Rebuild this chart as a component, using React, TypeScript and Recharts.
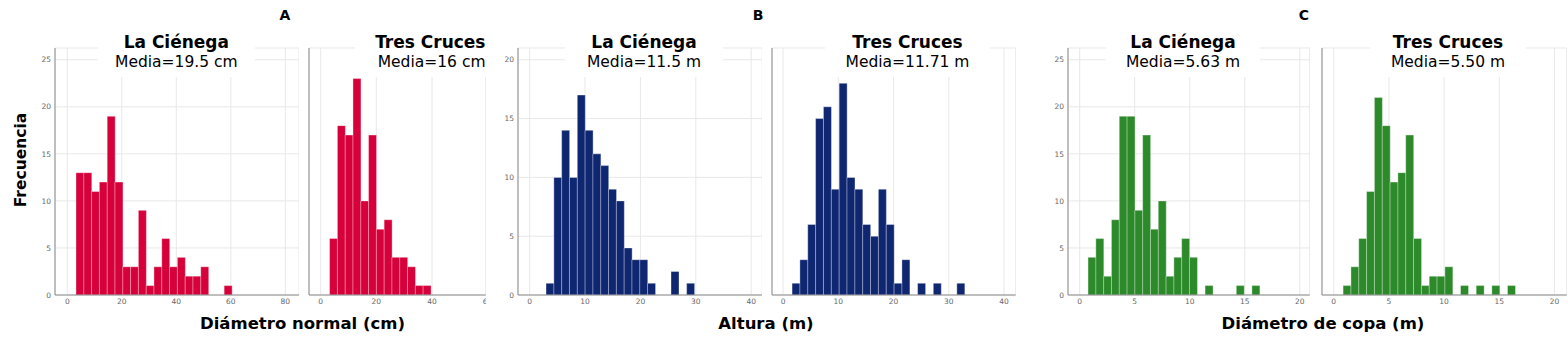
import React from 'react';
import { BarChart, Bar, XAxis, YAxis, CartesianGrid } from 'recharts';

const FONT = '"DejaVu Sans", Verdana, sans-serif';

const groupLabels = ['A', 'B', 'C'];
const axisTitles = ['Diámetro normal (cm)', 'Altura (m)', 'Diámetro de copa (m)'];
const siteNames = ['La Ciénega', 'Tres Cruces', 'La Ciénega', 'Tres Cruces', 'La Ciénega', 'Tres Cruces'];
const meanLabels = ['Media=19.5 cm', 'Media=16 cm', 'Media=11.5 m', 'Media=11.71 m', 'Media=5.63 m', 'Media=5.50 m'];

// frequencies per bin (left to right)
const dnCienega = [13, 13, 11, 12, 19, 12, 3, 3, 9, 1, 3, 6, 3, 4, 2, 2, 3, 0, 0, 1];
const dnCruces = [6, 18, 17, 23, 10, 17, 7, 8, 4, 4, 3, 1, 1];
const altCienega = [1, 10, 14, 10, 17, 14, 12, 11, 9, 8, 4, 3, 3, 1, 0, 0, 2, 0, 1];
const altCruces = [1, 3, 6, 15, 16, 9, 18, 10, 9, 6, 5, 9, 6, 1, 3, 0, 1, 0, 1, 0, 0, 1];
const copaCienega = [4, 6, 2, 8, 19, 19, 9, 17, 7, 10, 2, 4, 6, 4, 0, 1, 0, 0, 0, 1, 0, 1];
const copaCruces = [1, 3, 6, 11, 21, 18, 12, 13, 17, 6, 1, 2, 2, 3, 0, 1, 0, 1, 0, 1, 0, 1];

// first bin edge and bin width of each histogram
const binStarts = [3.2, 3.2, 2.96, 1.63, 0.76, 0.85];
const binWidths = [2.86, 2.8, 1.41, 1.42, 0.709, 0.709];

const xTicksDn = [0, 20, 40, 60, 80];
const xTicksDnRight = [0, 20, 40, 60];
const xTicksAlt = [0, 10, 20, 30, 40];
const xTicksCopa = [0, 5, 10, 15, 20];
const yTicks25 = [0, 5, 10, 15, 20, 25];
const yTicks20 = [0, 5, 10, 15, 20];

const RED = '#d6003a';
const NAVY = '#0f2671';
const GREEN = '#2d8a2a';

const toRows = (counts: number[], start: number, width: number) =>
  counts.map((n, i) => ({ x: start + width * (i + 0.5), n }));

const panels = [
  { counts: dnCienega, left: 55, right: 299, xDomain: [-4.5, 85], xTicks: xTicksDn, yMax: 26.25, yTicks: yTicks25, color: RED, showY: true, boxL: 97.7, boxR: 255, align: 'center' },
  { counts: dnCruces, left: 309.3, right: 486, xDomain: [-4.2, 59.3], xTicks: xTicksDnRight, yMax: 26.25, yTicks: yTicks25, color: RED, showY: false, boxL: 355, boxR: 485.5, align: 'right' },
  { counts: altCienega, left: 517.7, right: 762, xDomain: [-2.1, 42], xTicks: xTicksAlt, yMax: 21, yTicks: yTicks20, color: NAVY, showY: true, boxL: 565, boxR: 723, align: 'center' },
  { counts: altCruces, left: 772.3, right: 1016, xDomain: [-2.0, 42.1], xTicks: xTicksAlt, yMax: 21, yTicks: yTicks20, color: NAVY, showY: false, boxL: 825, boxR: 990, align: 'center' },
  { counts: copaCienega, left: 1068.3, right: 1310, xDomain: [-1.06, 20.9], xTicks: xTicksCopa, yMax: 26.25, yTicks: yTicks25, color: GREEN, showY: true, boxL: 1106, boxR: 1260, align: 'center' },
  { counts: copaCruces, left: 1322.3, right: 1567, xDomain: [-1.06, 21.1], xTicks: xTicksCopa, yMax: 26.25, yTicks: yTicks25, color: GREEN, showY: false, boxL: 1370, boxR: 1526, align: 'center' },
];

const groupLabelX = [285, 758, 1304];
const axisTitleX = [302.5, 766, 1323];

const tickStyle = { fill: '#666', fontSize: 7.5, fontFamily: FONT };

function Histogram({ idx }: { idx: number }) {
  const p = panels[idx];
  const yw = p.showY ? 25 : 1;
  const plotW = p.right - p.left;
  const rows = toRows(p.counts, binStarts[idx], binWidths[idx]);
  return (
    <div style={{ position: 'absolute', left: p.left - yw, top: 0 }}>
      <BarChart
        width={yw + plotW}
        height={315}
        data={rows}
        margin={{ top: 48, right: 0, bottom: 0, left: 0 }}
        barCategoryGap={0}
        barGap={0}
      >
        <CartesianGrid stroke="#e8e8e8" />
        <XAxis
          type="number"
          dataKey="x"
          domain={p.xDomain}
          ticks={p.xTicks}
          allowDataOverflow
          interval={0}
          height={20}
          tickLine={false}
          tickSize={2}
          tickMargin={2}
          stroke="#8a8a8a"
          tick={tickStyle}
        />
        <YAxis
          type="number"
          domain={[0, p.yMax]}
          ticks={p.yTicks}
          allowDataOverflow
          interval={0}
          width={yw}
          tickLine={false}
          tickSize={2}
          tickMargin={2}
          stroke="#8a8a8a"
          tick={p.showY ? tickStyle : false}
        />
        <Bar dataKey="n" fill={p.color} stroke="rgba(255,255,255,0.45)" strokeWidth={0.8} isAnimationActive={false} />
      </BarChart>
    </div>
  );
}

export default function App() {
  return (
    <div style={{ position: 'absolute', left: 0, top: 0, width: 1568, height: 345, background: '#fff', fontFamily: FONT, color: '#000' }}>
      {panels.map((_, i) => (
        <Histogram key={i} idx={i} />
      ))}
      {panels.map((p, i) => (
        <div
          key={'t' + i}
          style={{
            position: 'absolute',
            left: p.boxL,
            top: 30,
            width: p.boxR - p.boxL,
            height: 47,
            background: '#fff',
            paddingTop: 2.6,
            boxSizing: 'border-box',
            textAlign: p.align as any,
            whiteSpace: 'nowrap',
          }}
        >
          <div style={{ fontWeight: 'bold', fontSize: 17, lineHeight: '18px' }}>{siteNames[i]}</div>
          <div style={{ fontSize: 15.5, lineHeight: '18px', marginTop: 2.5 }}>{meanLabels[i]}</div>
        </div>
      ))}
      {groupLabels.map((g, i) => (
        <div key={g} style={{ position: 'absolute', left: groupLabelX[i] - 20, top: 7.2, width: 40, textAlign: 'center', fontWeight: 'bold', fontSize: 14, lineHeight: '16px' }}>
          {g}
        </div>
      ))}
      {axisTitles.map((t, i) => (
        <div key={t} style={{ position: 'absolute', left: axisTitleX[i] - 150, top: 314.3, width: 300, textAlign: 'center', fontWeight: 'bold', fontSize: 16.5, lineHeight: '20px', whiteSpace: 'nowrap' }}>
          {t}
        </div>
      ))}
      <div style={{ position: 'absolute', left: 21 - 60, top: 160 - 10, width: 120, height: 20, textAlign: 'center', fontWeight: 'bold', fontSize: 15.5, lineHeight: '20px', transform: 'rotate(-90deg)' }}>
        Frecuencia
      </div>
    </div>
  );
}
